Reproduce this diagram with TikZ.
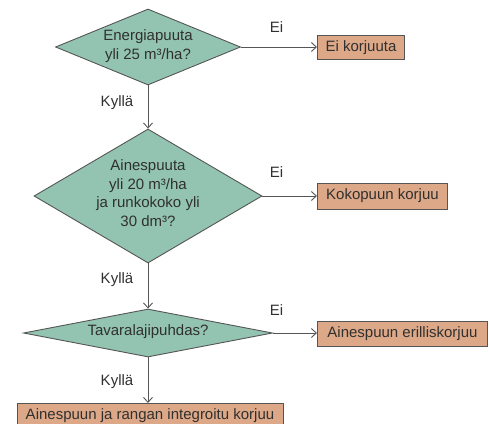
\documentclass[tikz,border=0pt]{standalone}
\usepackage{fontspec}
\setmainfont{Liberation Sans}
\usetikzlibrary{shapes.geometric,arrows.meta}
\definecolor{dfill}{HTML}{93C4B2}
\definecolor{bfill}{HTML}{DDA887}
\definecolor{lcol}{HTML}{555555}
\definecolor{tcol}{HTML}{303030}
\begin{document}
\begin{tikzpicture}[x=1pt,y=-1pt,
  every node/.style={font=\fontsize{15}{18.5}\selectfont, text=tcol},
  decision/.style={diamond, draw=lcol, fill=dfill, line width=0.9pt, inner sep=0pt},
  outcome/.style={rectangle, draw=lcol, fill=bfill, line width=0.9pt, inner sep=0pt, align=center},
  flow/.style={draw=lcol, line width=0.9pt, -{Straight Barb[length=5pt,width=9pt]}},
  lbl/.style={inner sep=0pt}]
\useasboundingbox (0,0) rectangle (489,423);
% decisions
\node[decision, minimum width=185pt, minimum height=76pt] (d1) at (148,47) {};
\node[align=center, inner sep=0pt] (t1) at (148,46) {Energiapuuta\\yli 25 m³/ha?};
\node[decision, minimum width=228pt, minimum height=134pt] (d2) at (148,196) {};
\node[align=center, inner sep=0pt] (t2) at (148,193) {Ainespuuta\\yli 20 m³/ha\\ja runkokoko yli\\30 dm³?};
\node[decision, minimum width=249pt, minimum height=48pt] (d3) at (148,333) {};
\node[inner sep=0pt] (t3) at (148,332) {Tavaralajipuhdas?};
% outcomes
\node[outcome, minimum width=87pt, minimum height=24pt, anchor=west] (o1) at (317,47.5) {Ei korjuuta};
\node[outcome, minimum width=130pt, minimum height=26pt, anchor=west] (o2) at (317,196) {Kokopuun korjuu};
\node[outcome, minimum width=170pt, minimum height=25pt, anchor=west] (o3) at (317,333.5) {Ainespuun erilliskorjuu};
\node[outcome, minimum width=266pt, minimum height=25pt, anchor=north] (o4) at (150,403) {Ainespuun ja rangan integroitu korjuu};
% connectors
\draw[flow] (d1.east) -- (o1.west |- d1.east);
\draw[flow] (d2.east) -- (o2.west |- d2.east);
\draw[flow] (d3.east) -- (o3.west |- d3.east);
\draw[flow] (d1.south) -- (d2.north);
\draw[flow] (d2.south) -- (d3.north);
\draw[flow] (d3.south) -- (d3.south |- o4.north);
% labels
\node[lbl] (e1) at (276.5,27) {Ei};
\node[lbl] (e2) at (276.5,172) {Ei};
\node[lbl] (e3) at (276.5,310) {Ei};
\node[lbl] (k1) at (117,103) {Kyllä};
\node[lbl] (k2) at (117,280) {Kyllä};
\node[lbl] (k3) at (117,382) {Kyllä};
\end{tikzpicture}
\end{document}
